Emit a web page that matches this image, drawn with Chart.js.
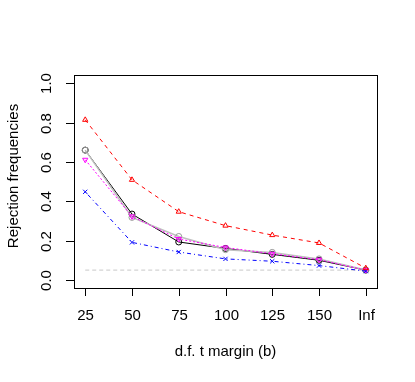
<!DOCTYPE html>
<html>
<head>
<meta charset="utf-8">
<script src="https://cdn.jsdelivr.net/npm/chart.js@4.4.0/dist/chart.umd.min.js"></script>
<style>
  html, body { margin: 0; padding: 0; background: #fff; }
  #wrap { width: 415px; height: 382px; }
</style>
</head>
<body>
<div id="wrap"><canvas id="myChart" width="415" height="382"></canvas></div>
<script>
// datos
const dfLabels = ['25', '50', '75', '100', '125', '150', 'Inf'];
const yTicks = [0.0, 0.2, 0.4, 0.6, 0.8, 1.0];

const blackVals   = [0.66, 0.335, 0.193, 0.160, 0.130, 0.100, 0.050];
const grayVals    = [0.66, 0.318, 0.221, 0.154, 0.140, 0.107, 0.050];
const magentaVals = [0.611, 0.323, 0.208, 0.165, 0.133, 0.103, 0.050];
const blueVals    = [0.448, 0.191, 0.142, 0.107, 0.095, 0.073, 0.045];
const redVals     = [0.814, 0.509, 0.347, 0.276, 0.228, 0.188, 0.060];
const nominalLevel = 0.05;

const FONT = '15px "Liberation Sans", Arial, sans-serif';

function toPoints(vals) {
    return vals.map((v, i) => ({ x: i, y: v }));
}

function series(vals, color, dash, pointStyle, order, extra) {
    return Object.assign({
        data: toPoints(vals),
        borderColor: color,
        backgroundColor: 'transparent',
        borderWidth: 1,
        borderDash: dash,
        pointStyle: pointStyle,
        pointRadius: 3,
        pointBorderColor: color,
        pointBackgroundColor: 'transparent',
        pointBorderWidth: 1,
        tension: 0,
        fill: false,
        order: order
    }, extra || {});
}

// ejes al estilo R dibujados a mano
const rAxes = {
    id: 'rAxes',
    afterDraw(chart) {
        const { ctx, chartArea: a, scales } = chart;
        const xs = scales.x, ys = scales.y;
        ctx.save();
        ctx.strokeStyle = '#000';
        ctx.lineWidth = 1;
        ctx.strokeRect(Math.round(a.left) + 0.5, Math.round(a.top) + 0.5,
            Math.round(a.right - a.left), Math.round(a.bottom - a.top));

        ctx.fillStyle = '#000';
        ctx.font = FONT;

        // eje x
        ctx.textAlign = 'center';
        ctx.textBaseline = 'middle';
        dfLabels.forEach((lab, i) => {
            const px = Math.round(xs.getPixelForValue(i)) + 0.5;
            ctx.beginPath();
            ctx.moveTo(px, a.bottom);
            ctx.lineTo(px, a.bottom + 8);
            ctx.stroke();
            ctx.fillText(lab, px, 316);
        });
        ctx.fillText('d.f. t margin (b)', (a.left + a.right) / 2, 352);

        // eje y
        yTicks.forEach(v => {
            const py = Math.round(ys.getPixelForValue(v)) + 0.5;
            ctx.beginPath();
            ctx.moveTo(a.left, py);
            ctx.lineTo(a.left - 8, py);
            ctx.stroke();
            ctx.save();
            ctx.translate(47, py);
            ctx.rotate(-Math.PI / 2);
            ctx.fillText(v.toFixed(1), 0, 0);
            ctx.restore();
        });
        ctx.save();
        ctx.translate(14, 176);
        ctx.rotate(-Math.PI / 2);
        ctx.fillText('Rejection frequencies', 0, 0);
        ctx.restore();
        ctx.restore();
    }
};

const ctx = document.getElementById('myChart').getContext('2d');
new Chart(ctx, {
    type: 'line',
    data: {
        datasets: [
            {
                data: [{ x: 0, y: nominalLevel }, { x: 6, y: nominalLevel }],
                borderColor: '#c8c8c8',
                borderWidth: 1,
                borderDash: [4, 3],
                pointRadius: 0,
                fill: false,
                order: 7
            },
            series(blackVals, '#000000', [], 'circle', 6),
            series(grayVals, '#999999', [], 'circle', 5, { borderColor: '#c0c0c0', borderWidth: 1.5 }),
            series(magentaVals, '#ff00ff', [2, 2], 'triangle', 4, { pointRotation: 180 }),
            series(blueVals, '#0000ff', [1, 3, 4, 3], 'crossRot', 3),
            series(redVals, '#ff0000', [4, 4], 'triangle', 2)
        ]
    },
    options: {
        responsive: false,
        animation: false,
        layout: { padding: { left: 74, right: 38, top: 75, bottom: 94 } },
        plugins: { legend: { display: false }, tooltip: { enabled: false } },
        elements: { line: { borderCapStyle: 'butt' } },
        scales: {
            x: { type: 'linear', min: -0.24, max: 6.24, display: false },
            y: { min: -0.041, max: 1.042, display: false }
        }
    },
    plugins: [rAxes]
});
</script>
</body>
</html>
